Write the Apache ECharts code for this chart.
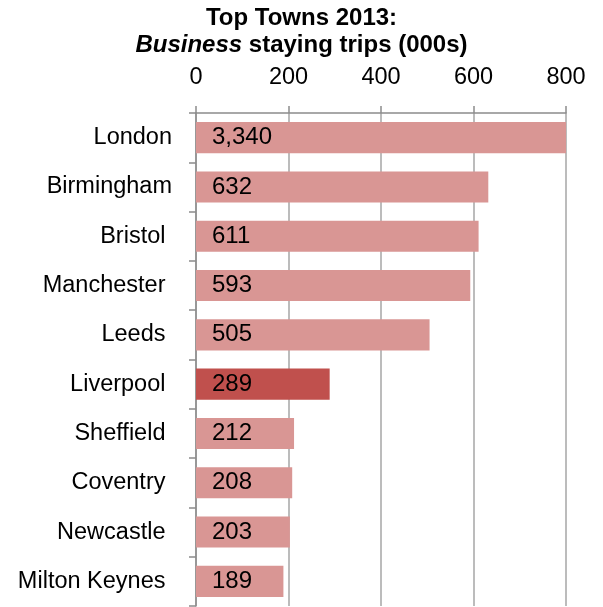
<!DOCTYPE html>
<html>
<head>
<meta charset="utf-8">
<script src="https://cdn.jsdelivr.net/npm/echarts@6/dist/echarts.min.js"></script>
<style>
  html, body { margin: 0; padding: 0; background: #ffffff; }
  #chart { width: 603px; height: 607px; }
</style>
</head>
<body>
<div id="chart"></div>
<script>
// Business staying trips by town, 2013 (thousands).
// Town names after the first two carry a trailing space, as in the source sheet.
const towns = ['London', 'Birmingham', 'Bristol ', 'Manchester ', 'Leeds ',
               'Liverpool ', 'Sheffield ', 'Coventry ', 'Newcastle ', 'Milton Keynes '];
const trips = [3340, 632, 611, 593, 505, 289, 212, 208, 203, 189];
const highlightTown = 'Liverpool ';
const axisTicks = [0, 200, 400, 600, 800];

const baseColor = '#D99694';
const highlightColor = '#C0504D';
const font = 'Liberation Sans, Arial, sans-serif';

const chart = echarts.init(document.getElementById('chart'), null, { renderer: 'canvas' });

chart.setOption({
  animation: false,
  backgroundColor: '#ffffff',
  title: {
    text: '{b|Top Towns 2013:}\n{bi|Business}{b| staying trips (000s)}',
    left: 'center',
    top: 0,
    textStyle: {
      rich: {
        b: { fontFamily: font, fontWeight: 'bold', fontSize: 24, color: '#000', lineHeight: 27 },
        bi: { fontFamily: font, fontWeight: 'bold', fontStyle: 'italic', fontSize: 24, color: '#000', lineHeight: 27 }
      }
    }
  },
  grid: { left: 196, right: 37, top: 113, bottom: 1, containLabel: false },
  xAxis: {
    type: 'value',
    position: 'top',
    min: axisTicks[0],
    max: axisTicks[axisTicks.length - 1],
    interval: axisTicks[1] - axisTicks[0],
    axisLine: { show: true, lineStyle: { color: '#8C8C8C', width: 1.5 } },
    axisTick: { show: true, length: 7, inside: false, lineStyle: { color: '#8C8C8C', width: 1.5 } },
    axisLabel: { margin: 23, fontFamily: font, fontSize: 23.5, color: '#000' },
    splitLine: { show: true, lineStyle: { color: '#A6A6A6', width: 1.5 } }
  },
  yAxis: {
    type: 'category',
    inverse: true,
    data: towns,
    axisLine: { show: true, lineStyle: { color: '#8C8C8C', width: 1.5 } },
    axisTick: { show: true, length: 7, lineStyle: { color: '#8C8C8C', width: 1.5 } },
    axisLabel: { margin: 24, fontFamily: font, fontSize: 23.5, color: '#000' }
  },
  series: [{
    type: 'bar',
    clip: true,
    barCategoryGap: '37%',
    data: trips.map((v, i) => ({
      value: v,
      itemStyle: { color: towns[i] === highlightTown ? highlightColor : baseColor }
    })),
    label: {
      show: true,
      position: 'insideLeft',
      distance: 16,
      fontFamily: font,
      fontSize: 24,
      color: '#000',
      formatter: p => p.value.toLocaleString('en-US')
    }
  }]
});
</script>
</body>
</html>
